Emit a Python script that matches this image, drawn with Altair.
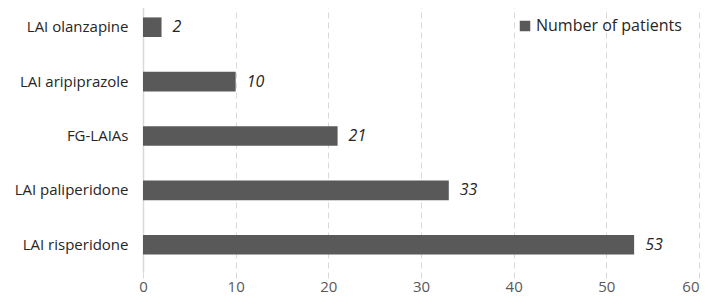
import altair as alt
import pandas as pd

categories = ["LAI olanzapine", "LAI aripiprazole", "FG-LAIAs", "LAI paliperidone", "LAI risperidone"]
values = [2, 10, 21, 33, 53]
series = ["Number of patients"] * 5
x_ticks = [0, 10, 20, 30, 40, 50, 60]

df = pd.DataFrame({"category": categories, "value": values, "series": series})

FONT = "Open Sans"

y_enc = alt.Y("category:N", sort=categories,
              scale=alt.Scale(range=[-8, 264], paddingInner=0.64, paddingOuter=0.32),
              axis=alt.Axis(title=None, ticks=False, domain=True, domainColor="#d9d9d9",
                            domainWidth=1.5, labelFontSize=15, labelFont=FONT,
                            labelColor="#262626", labelPadding=15, labelLimit=0, grid=False))

x_enc = alt.X("value:Q", scale=alt.Scale(domain=[0, 60], nice=False),
              axis=alt.Axis(title=None, values=x_ticks, ticks=False, domain=False,
                            grid=True, gridColor="#d9d9d9", gridDash=[6, 4], gridWidth=1,
                            labelFontSize=15, labelFont=FONT, labelColor="#595959",
                            labelPadding=9,
                            labelAlign=alt.ExprRef("datum.value == 60 ? 'right' : 'center'")))

bars = alt.Chart(df).mark_bar().encode(
    x=x_enc,
    y=y_enc,
    color=alt.Color("series:N", scale=alt.Scale(range=["#595959"]),
                    legend=alt.Legend(title=None, orient="none", legendX=374, legendY=10,
                                      symbolType="square", symbolSize=110,
                                      symbolStrokeWidth=0, padding=0,
                                      labelFontSize=16, labelFont=FONT,
                                      labelColor="#262626", labelOffset=3)),
)

text = alt.Chart(df).mark_text(align="left", dx=11, fontStyle="italic",
                               fontSize=16, font=FONT, color="#262626").encode(
    x="value:Q", y=alt.Y("category:N", sort=categories), text="value:Q")

chart = (bars + text).properties(
    width=556, height=262,
    autosize=alt.AutoSizeParams(type="none"),
    padding={"left": 135, "top": 0, "right": 2, "bottom": 25},
).configure_view(stroke=None)

chart.save("out.html", embed_options={"renderer": "svg", "actions": False})
